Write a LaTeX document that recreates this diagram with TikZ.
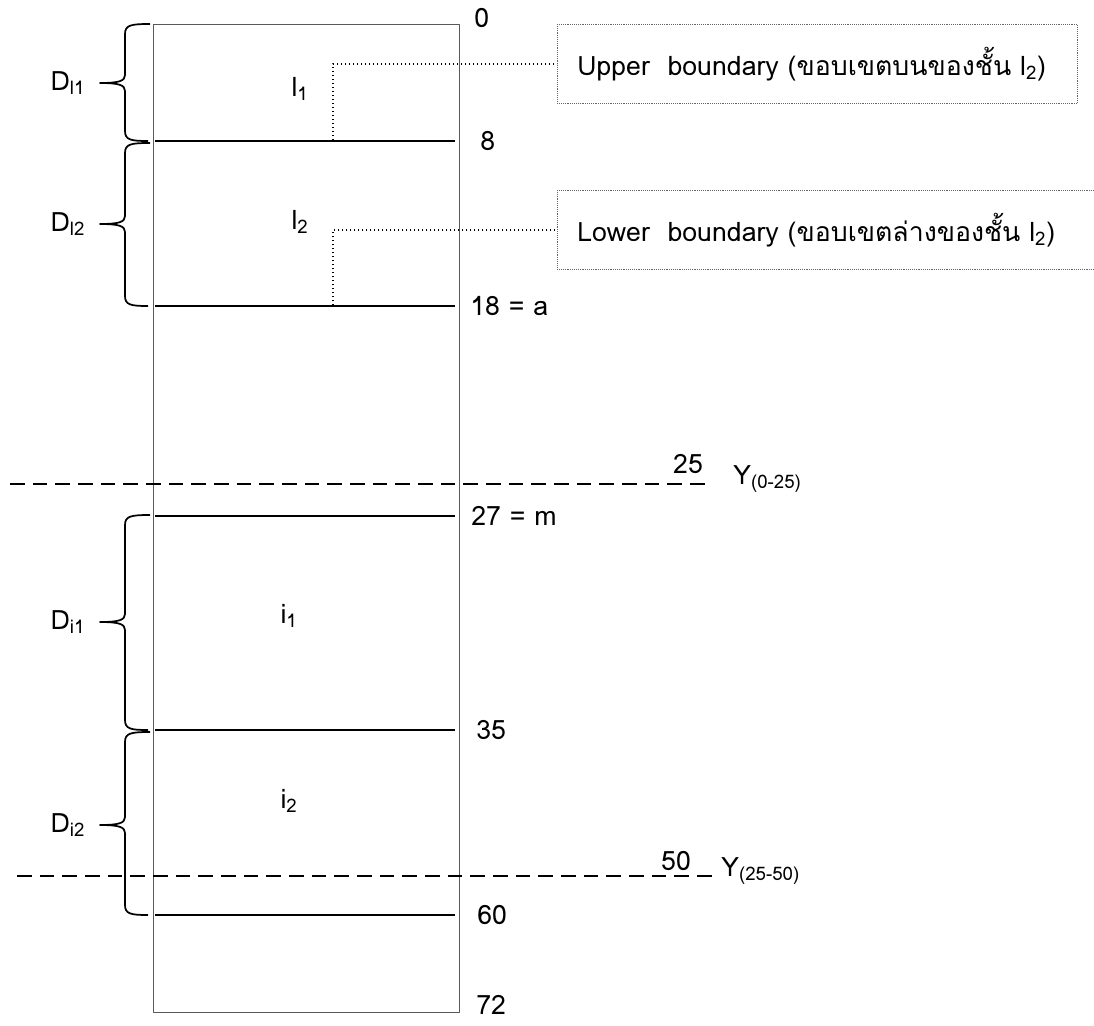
\documentclass[tikz,border=0pt]{standalone}
\usepackage{fontspec}
\setmainfont{Loma}[Script=Thai]
\newfontfamily\thaifont[Script=Thai]{Loma}
\usetikzlibrary{positioning}
\tikzset{
  every picture/.style={line cap=butt, line join=round},
  lbl/.style={font=\fontsize{20}{24}\selectfont, inner sep=0pt},
  colbox/.style={draw=black!65, line width=0.5pt},
  bound/.style={black, line width=1.1pt},
  split/.style={black, line width=1pt, dash pattern=on 11pt off 6pt},
  bracel/.style={black, line width=1.3pt},
  lead/.style={black, line width=1pt, dotted},
  notebox/.style={lbl, draw=black!60, line width=0.4pt, densely dotted,
    anchor=west, inner xsep=15pt, minimum height=59pt, align=left},
}

\begin{document}
\begin{tikzpicture}[x=0.75pt, y=-0.75pt]
\useasboundingbox (0,0) rectangle (1094,1025);
% soil column
\draw[colbox] (153,24) rectangle (459,1012);
\node[lbl, anchor=west] (d0) at (474,18) {0};
\node[lbl, anchor=west] (d72) at (476,1005) {72};
% layer boundaries
\foreach \n/\y/\x/\t in {b8/141/480/8, b18/306/470/18 = a, b27/516/471/27 = m,
  b35/730/476/35, b60/915/477/60} {
  \coordinate (\n) at (155,\y);
  \draw[bound] (\n) -- (455,\y);
  \node[lbl, anchor=west] (\n l) at (\x,\y) {\t};
}
% layer names
\node[lbl] (l1) at (300,89) {l\textsubscript{1}};
\node[lbl] (l2) at (300,222) {l\textsubscript{2}};
\node[lbl] (i1) at (289,616) {i\textsubscript{1}};
\node[lbl] (i2) at (289,801) {i\textsubscript{2}};
% braces
\foreach \n/\t/\b/\m in {l1/24/141/83, l2/143/306/224, i1/515/730/622, i2/732/915/825} {
  \draw[bracel] (150,\t) .. controls (131,\t) and (125,\t+1) .. (125,\t+10)
    -- (125,\m-8) .. controls (125,\m-2) and (119,\m) .. (100,\m)
    .. controls (119,\m) and (125,\m+2) .. (125,\m+8)
    -- (125,\b-10) .. controls (125,\b-1) and (131,\b) .. (148,\b);
  \coordinate (tip\n) at (100,\m);
  \node[lbl, left=11pt of tip\n] (D\n) {D\textsubscript{\n}};
}
% year splits
\coordinate (s25a) at (10,484);
\coordinate (s25b) at (711,484);
\draw[split] (s25a) -- (s25b);
\node[lbl] (y25) at (688,464) {25};
\node[lbl, anchor=base west] (Y25) at (733,484) {Y\textsubscript{(0-25)}};
\coordinate (s50a) at (17,876);
\coordinate (s50b) at (714,876);
\draw[split] (s50a) -- (s50b);
\node[lbl] (y50) at (676,861) {50};
\node[lbl, anchor=base west] (Y50) at (721,876) {Y\textsubscript{(25-50)}};
% boundary notes
\node[notebox, text width=360pt] (upper) at (557,64)
  {Upper\ \ boundary ({\thaifont ขอบเขตบนของชั้น} l\textsubscript{2})};
\node[notebox, text width=374pt] (lower) at (557,230)
  {Lower\ \ boundary ({\thaifont ขอบเขตล่างของชั้น} l\textsubscript{2})};
\coordinate (u0) at (322,141);
\coordinate (w0) at (322,306);
\draw[lead] (u0) -- (333,141) |- (upper.west);
\draw[lead] (w0) -- (333,306) |- (lower.west);
\end{tikzpicture}
\end{document}
